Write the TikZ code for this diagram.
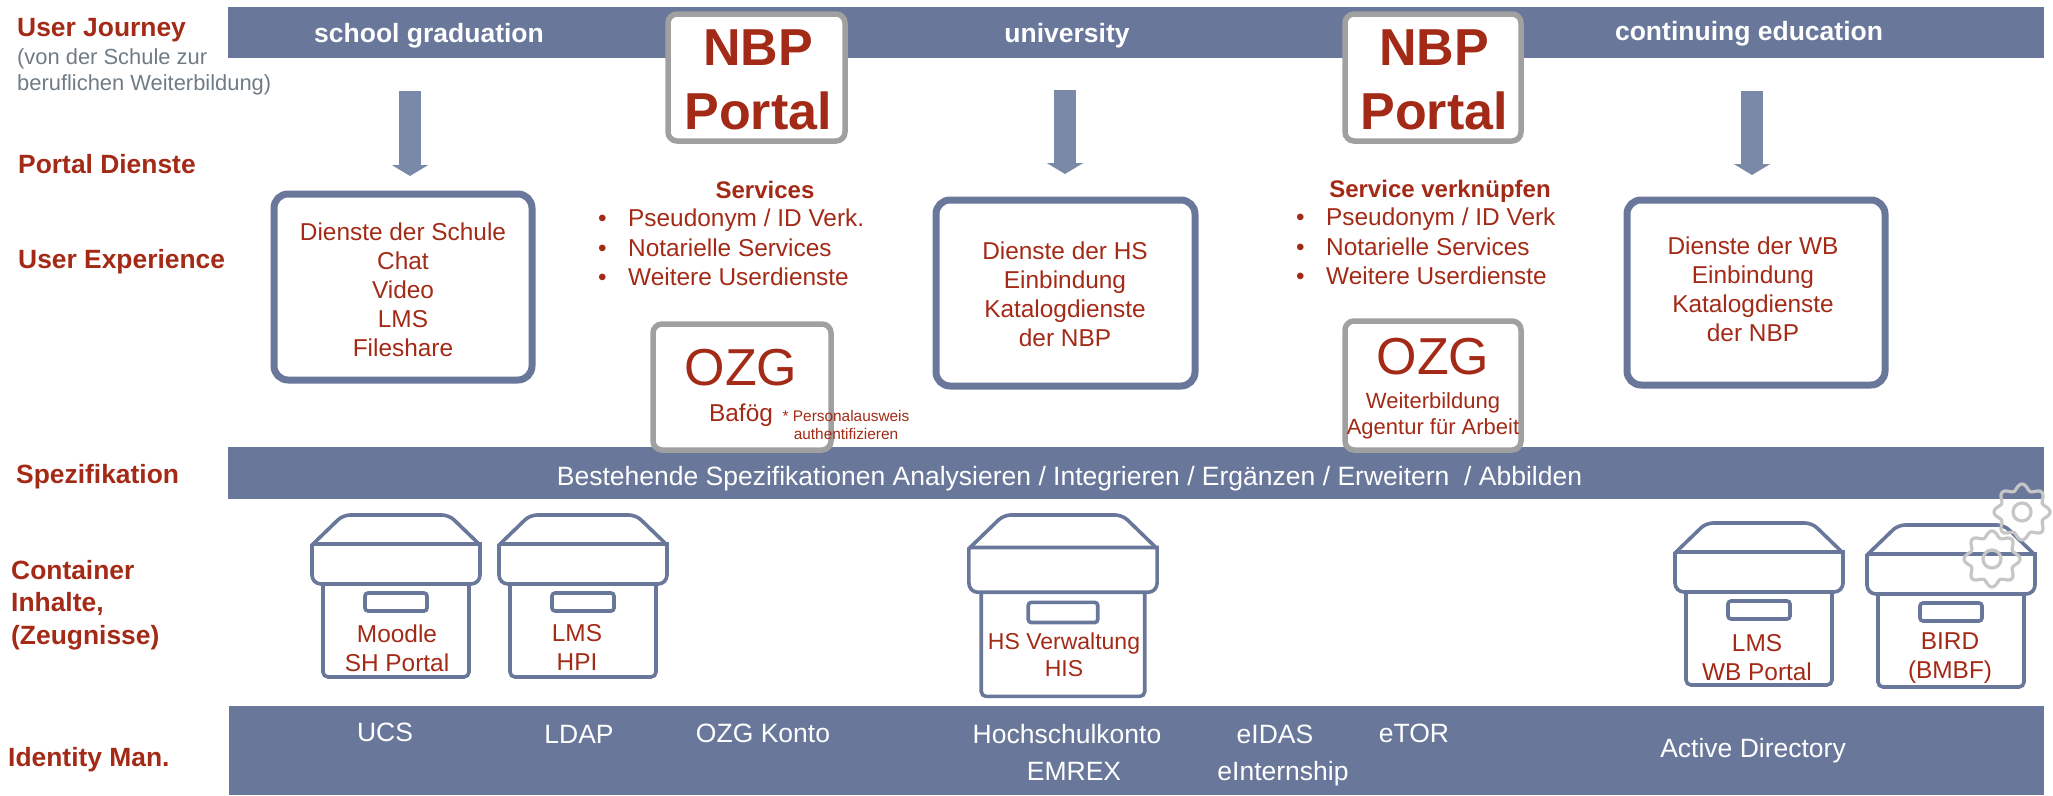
\documentclass[tikz,border=0pt]{standalone}
\usepackage{fontspec}
\setmainfont{Liberation Sans}
\usetikzlibrary{arrows.meta}
\definecolor{barblue}{HTML}{68779A}
\definecolor{arrowblue}{HTML}{7B89A9}
\definecolor{nbpred}{HTML}{A32A16}
\definecolor{framegray}{HTML}{A0A0A0}
\definecolor{notegray}{HTML}{6F7C85}
\definecolor{geargray}{HTML}{C6C6C6}
\newcommand{\fs}[1]{\fontsize{#1}{#1}\selectfont}
\newcommand{\srvitem}[1]{\makebox[30pt][l]{\textbullet}#1}
% lid and body of one container, #1 = centre x, #2 = top y, #3 = scale
\newcommand{\contbox}[3]{
\begin{scope}[shift={(#1,#2)},scale=#3]
\draw [boxline,rounded corners=7] (-84,30) -- (-53,0) -- (53,0) -- (84,30);
\draw [boxline] (-84,29) -- (84,29) [rounded corners=9] -- (84,69) -- (-84,69) -- (-84,29);
\draw [boxline,rounded corners=5] (-73,69) -- (-73,162) -- (73,162) -- (73,69);
\draw [boxline,rounded corners=3] (-31,78) rectangle (31,96);
\end{scope}}
\newcommand{\gearwheel}[2]{
\draw [gearline] plot [domain=0:360,samples=121,smooth] ({#1+(25+3*cos(8*\x))*cos(\x)},{#2+(25+3*cos(8*\x))*sin(\x)}) -- cycle;
\draw [gearline] (#1,#2) circle [radius=9];}
\tikzset{
bar/.style={fill=barblue},
barlabel/.style={text=white,inner sep=0,font=\fs{26.5}},
rowlabel/.style={text=nbpred,inner sep=0,anchor=west,font=\fs{26.4}\bfseries},
redtext/.style={text=nbpred,inner sep=0,align=center,font=\fontsize{24.4}{29}\selectfont},
srvlist/.style={text=nbpred,inner sep=0,anchor=west,font=\fs{24.4}},
bluebox/.style={draw=barblue,fill=white,line width=7,rounded corners=14},
graybox/.style={draw=framegray,fill=white,line width=5.5,rounded corners=9},
boxline/.style={draw=barblue,line width=3.6},
gearline/.style={draw=geargray,line width=3.2},
downarrow/.style={draw=arrowblue,line width=22,-{Triangle[length=11,width=36]}}
}
\begin{document}
\begin{tikzpicture}[x=1pt,y=-1pt]
\useasboundingbox (0,0) rectangle (2053,795);
% bars
\fill [bar] (228,7) rectangle (2044,58);
\fill [bar] (228,447) rectangle (2044,499);
\fill [bar] (229,706) rectangle (2044,795);
% row labels
\node [rowlabel] (journey) at (17,30) {User Journey};
\node [text=notegray,inner sep=0,anchor=north west,align=left,font=\fontsize{21.9}{26.5}\selectfont] (journeynote) at (17,48) {(von der Schule zur\\beruflichen Weiterbildung)};
\node [rowlabel] (dienste) at (18,164) {Portal Dienste};
\node [rowlabel] (experience) at (18,261.5) {User Experience};
\node [rowlabel] (spez) at (16,477) {Spezifikation};
\node [rowlabel,align=left,font=\fontsize{26.4}{32.5}\selectfont\bfseries] (inhalte) at (11,605) {Container\\Inhalte,\\(Zeugnisse)};
\node [rowlabel] (identity) at (8,759.5) {Identity Man.};
% journey steps
\node [barlabel,font=\fs{26.5}\bfseries] (school) at (429,36) {school graduation};
\node [barlabel,font=\fs{26.5}\bfseries] (uni) at (1067,36) {university};
\node [barlabel,font=\fs{26.5}\bfseries] (weiter) at (1749,34) {continuing education};
% arrows
\coordinate (a1) at (410,91);
\coordinate (b1) at (410,176);
\coordinate (a2) at (1065,90);
\coordinate (b2) at (1065,174);
\coordinate (a3) at (1752,91);
\coordinate (b3) at (1752,175);
\draw [downarrow] (a1) -- (b1);
\draw [downarrow] (a2) -- (b2);
\draw [downarrow] (a3) -- (b3);
% portal boxes
\draw [graybox] (668,14) rectangle (845,141);
\draw [graybox] (1345,14) rectangle (1521,141);
\node [text=nbpred,inner sep=0,align=center,font=\fontsize{52}{64}\selectfont\bfseries] (portalA) at (758,80) {NBP\\Portal};
\node [text=nbpred,inner sep=0,align=center,font=\fontsize{52}{64}\selectfont\bfseries] (portalB) at (1434,80) {NBP\\Portal};
% user experience
\draw [bluebox] (274,194) rectangle (532,380);
\draw [bluebox] (936,200) rectangle (1195,386);
\draw [bluebox] (1627,200) rectangle (1885,385);
\node [redtext] (schulbox) at (403,290) {Dienste der Schule\\Chat\\Video\\LMS\\Fileshare};
\node [redtext] (hsbox) at (1065,294) {Dienste der HS\\Einbindung\\Katalogdienste\\der NBP};
\node [redtext] (wbbox) at (1753,289) {Dienste der WB\\Einbindung\\Katalogdienste\\der NBP};
% services
\node [text=nbpred,inner sep=0,font=\fs{24}\bfseries] (serviceA) at (765,190) {Services};
\node [srvlist] (pseudoA) at (598,220.5) {\srvitem{Pseudonym / ID Verk.}};
\node [srvlist] (notarA) at (598,248) {\srvitem{Notarielle Services}};
\node [srvlist] (userA) at (598,277) {\srvitem{Weitere Userdienste}};
\node [text=nbpred,inner sep=0,font=\fs{24}\bfseries] (serviceB) at (1440,191) {Service verknüpfen};
\node [srvlist] (pseudoB) at (1296,219.5) {\srvitem{Pseudonym / ID Verk}};
\node [srvlist] (notarB) at (1296,247) {\srvitem{Notarielle Services}};
\node [srvlist] (userB) at (1296,276) {\srvitem{Weitere Userdienste}};
% ozg boxes
\draw [graybox] (653,324) rectangle (831,450);
\draw [graybox] (1345,321) rectangle (1521,450);
\node [text=nbpred,inner sep=0,font=\fs{52}] (ozgA) at (741,368) {OZG};
\node [text=nbpred,inner sep=0,font=\fs{24.4}] (bafoeg) at (741,415) {Bafög};
\node [text=nbpred,inner sep=0,align=center,font=\fontsize{15.4}{18}\selectfont] (ausweis) at (846,425) {* Personalausweis\\authentifizieren};
\node [text=nbpred,inner sep=0,font=\fs{52}] (ozgB) at (1433,357) {OZG};
\node [text=nbpred,inner sep=0,align=center,font=\fontsize{22}{26}\selectfont] (agentur) at (1433,416) {Weiterbildung\\Agentur für Arbeit};
% spezifikation
\node [barlabel] (analyse) at (1069.5,479) {Bestehende Spezifikationen Analysieren / Integrieren / Ergänzen / Erweitern \ / Abbilden};
% containers
\contbox{396}{515}{1}
\contbox{583}{515}{1}
\contbox{1063}{515}{1.12}
\contbox{1759}{523}{1}
\contbox{1951}{525}{1}
\node [redtext] (moodle) at (397,648) {Moodle\\SH Portal};
\node [redtext] (hpi) at (577,647) {LMS\\HPI};
\node [redtext,font=\fontsize{23}{27}\selectfont] (verwaltung) at (1064,655) {HS Verwaltung\\HIS};
\node [redtext] (wbportal) at (1757,658) {LMS\\WB Portal};
\node [redtext] (bird) at (1950,658) {BIRD\\(BMBF)};
\gearwheel{2022}{512}
\gearwheel{1992}{559}
% identity management
\node [barlabel] (ucs) at (385,732) {UCS};
\node [barlabel] (ldap) at (579,734) {LDAP};
\node [barlabel] (konto) at (763,733) {OZG Konto};
\node [barlabel] (hskonto) at (1067,734) {Hochschulkonto};
\node [barlabel] (emrex) at (1074,771) {EMREX};
\node [barlabel] (eidas) at (1275,734) {eIDAS};
\node [barlabel] (intern) at (1283,774) {eInternship};
\node [barlabel] (etor) at (1414,733) {eTOR};
\node [barlabel] (active) at (1753,751) {Active Directory};
\end{tikzpicture}
\end{document}
